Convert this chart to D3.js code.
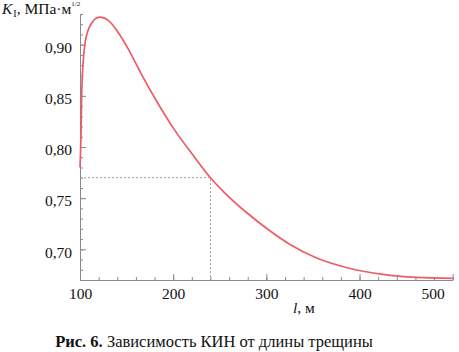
<!DOCTYPE html>
<html>
<head>
<meta charset="utf-8">
<script src="https://cdn.jsdelivr.net/npm/d3@7"></script>
<style>
  body { margin: 0; background: #fff; }
</style>
</head>
<body>
<script>
// crack length l, m
const lengths = [100, 101, 101.8, 103.5, 105, 107, 109.5, 112.5, 116, 121, 126, 130, 141, 152, 166, 184, 202, 220, 240, 255, 280, 307, 325, 354, 389, 425, 461, 500];
// stress intensity factor K_I, MPa*m^1/2
const kValues = [0.780, 0.810, 0.852, 0.884, 0.899, 0.909, 0.916, 0.921, 0.925, 0.927, 0.926, 0.924, 0.912, 0.8955, 0.871, 0.842, 0.816, 0.7936, 0.770, 0.7555, 0.735, 0.716, 0.705, 0.6915, 0.6815, 0.6755, 0.6725, 0.6715];

const xMajor = [100, 200, 300, 400, 500];
const yMajor = [0.70, 0.75, 0.80, 0.85, 0.90];
const marker = { l: 240, k: 0.770 };

const width = 459, height = 352;
const serif = '"Liberation Serif", serif';

const svg = d3.select("body").append("svg")
  .attr("width", width)
  .attr("height", height);

const X = d3.scaleLinear().domain([100, 500]).range([80, 452.7]);
const Y = d3.scaleLinear().domain([0.67, 0.93]).range([280, 14]);

const axisColor = "#8a8a8a";

// minor ticks
svg.append("g").attr("transform", `translate(0,${Y(0.67)})`)
  .call(d3.axisBottom(X).tickValues(d3.range(100, 501, 20)).tickSizeInner(-3).tickSizeOuter(0).tickFormat(""));
svg.append("g").attr("transform", `translate(${X(100)},0)`)
  .call(d3.axisLeft(Y).tickValues(d3.range(67, 94).map(d => d / 100)).tickSizeInner(-3).tickSizeOuter(0).tickFormat(""));

// major ticks + labels
const xaxis = svg.append("g").attr("transform", `translate(0,${Y(0.67)})`)
  .call(d3.axisBottom(X).tickValues(xMajor).tickSizeInner(-6).tickSizeOuter(0).tickPadding(8));
const yaxis = svg.append("g").attr("transform", `translate(${X(100)},0)`)
  .call(d3.axisLeft(Y).tickValues(yMajor).tickSizeInner(-6).tickSizeOuter(0).tickPadding(8)
    .tickFormat(d => d3.format(".2f")(d).replace(".", ",")));

svg.selectAll(".domain, .tick line").attr("stroke", axisColor);
svg.selectAll(".tick text")
  .attr("fill", "#111")
  .style("font-family", serif)
  .style("font-size", "15.5px");
yaxis.selectAll(".tick text").attr("dy", "0.5em");
// last label pulled inside the frame like in the print
xaxis.selectAll(".tick text").filter(d => d === 500).attr("dx", -20);

// dotted guide lines
svg.append("path")
  .attr("d", `M${X(100)},${Y(marker.k)}H${X(marker.l)}V${Y(0.67)}`)
  .attr("fill", "none")
  .attr("stroke", "#999")
  .attr("stroke-width", 1)
  .attr("stroke-dasharray", "2,2");

// curve
const pts = lengths.map((l, i) => [l, kValues[i]]);
svg.append("path")
  .datum(pts)
  .attr("fill", "none")
  .attr("stroke", "#ee5a66")
  .attr("stroke-width", 1.7)
  .attr("d", d3.line().x(d => X(d[0])).y(d => Y(d[1])).curve(d3.curveMonotoneX));

// axis titles
const ytitle = svg.append("text").attr("x", 2).attr("y", 14)
  .style("font-family", serif).style("font-size", "15.5px").attr("fill", "#111");
ytitle.append("tspan").text("K").style("font-style", "italic");
ytitle.append("tspan").text("I").attr("dx", 1).attr("dy", 3).style("font-size", "10px");
ytitle.append("tspan").text(", МПа·м").attr("dy", -3);
ytitle.append("tspan").text("1/2").attr("dy", -8).style("font-size", "7px");

const xtitle = svg.append("text").attr("x", 293).attr("y", 313)
  .style("font-family", serif).style("font-size", "15.5px").attr("fill", "#111");
xtitle.append("tspan").text("l").style("font-style", "italic");
xtitle.append("tspan").text(", м");

// caption
const caption = svg.append("text").attr("x", 214).attr("y", 347)
  .attr("text-anchor", "middle").style("font-family", serif).style("font-size", "16.5px").attr("fill", "#111");
caption.append("tspan").text("Рис. 6.").style("font-weight", "bold");
caption.append("tspan").text(" Зависимость КИН от длины трещины");
</script>
</body>
</html>
